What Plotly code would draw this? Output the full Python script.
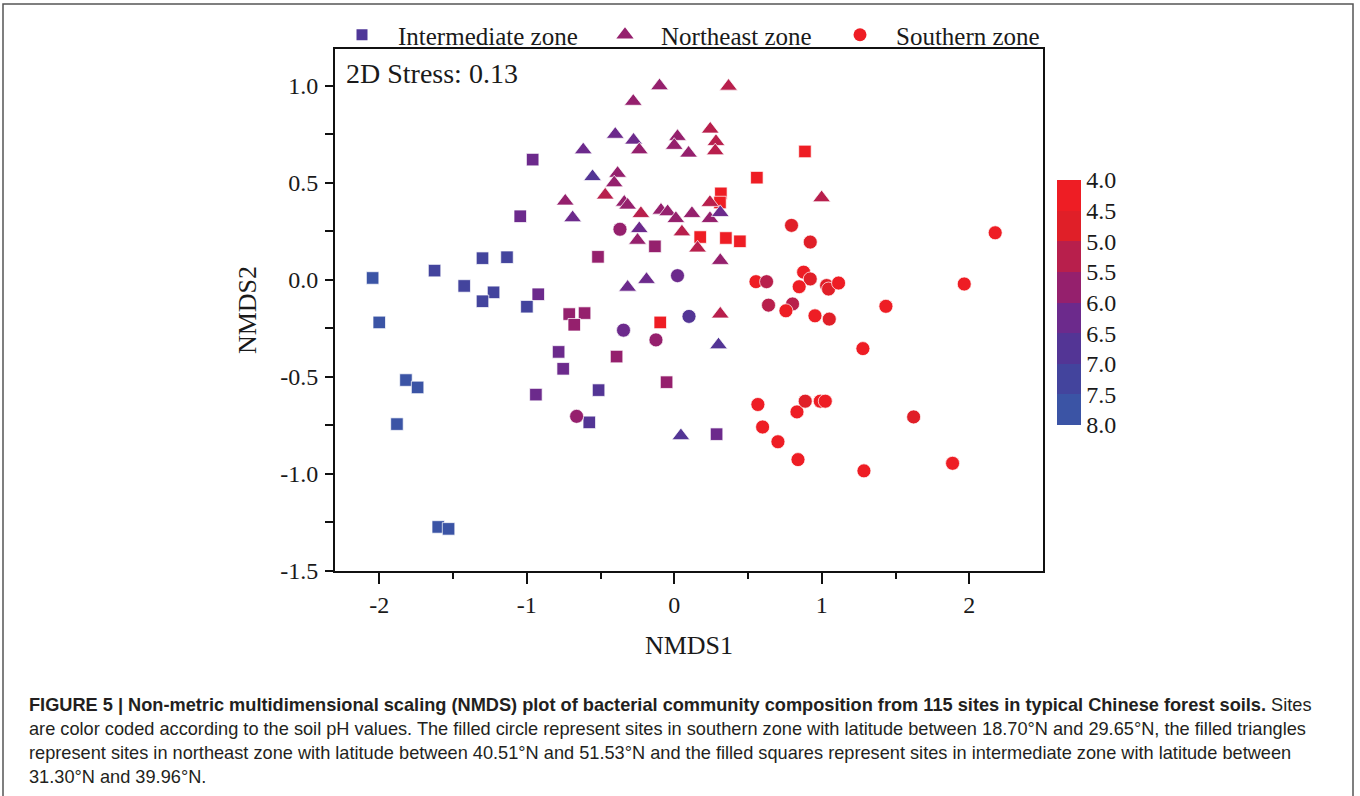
import plotly.graph_objects as go

# ---------------- data ----------------
# Intermediate zone (squares)
inter_x = [-2.045, -0.96, -1.044, -1.625, -1.30, -1.134, -1.424, -1.225, -1.30, -0.922,
           -0.999, -0.517, -0.131, -2.00, -1.819, -1.74, -1.88, -1.60, -1.53, -0.712,
           -0.608, -0.678, -0.095, -0.784, -0.753, -0.391, -0.052, -0.938, -0.513, -0.576,
           0.886, 0.56, 0.316, 0.31, 0.176, 0.35, 0.445, 0.287]
inter_y = [0.01, 0.62, 0.328, 0.048, 0.112, 0.117, -0.031, -0.064, -0.11, -0.074,
           -0.138, 0.119, 0.173, -0.219, -0.516, -0.554, -0.743, -1.273, -1.283, -0.176,
           -0.171, -0.231, -0.219, -0.371, -0.458, -0.395, -0.527, -0.591, -0.568, -0.734,
           0.662, 0.527, 0.446, 0.399, 0.221, 0.216, 0.199, -0.795]
inter_ph = [7.7, 6.2, 6.2, 7.2, 7.2, 7.2, 7.2, 7.2, 7.2, 6.2,
            7.2, 5.7, 5.7, 7.7, 7.7, 7.7, 7.7, 7.8, 7.8, 5.7,
            5.7, 5.7, 4.2, 6.2, 6.2, 5.7, 5.7, 6.2, 6.8, 6.8,
            4.2, 4.2, 4.2, 4.2, 4.2, 4.2, 4.2, 6.2]

# Northeast zone (triangles)
ne_x = [-0.10, 0.368, -0.278, -0.40, -0.276, -0.237, -0.617, 0.022, 0.0, 0.097,
        0.244, 0.283, 0.278, -0.554, -0.384, -0.407, -0.468, -0.739, -0.339, -0.316,
        -0.689, -0.226, -0.09, -0.045, 0.011, 0.12, 0.052, -0.237, -0.249, -0.316,
        -0.188, 0.999, 0.242, 0.242, 0.312, 0.158, 0.312, 0.312, 0.30, 0.045]
ne_y = [1.0, 0.998, 0.92, 0.75, 0.72, 0.67, 0.67, 0.739, 0.693, 0.653,
        0.777, 0.713, 0.665, 0.532, 0.549, 0.50, 0.437, 0.406, 0.40, 0.385,
        0.32, 0.342, 0.359, 0.351, 0.316, 0.342, 0.247, 0.264, 0.204, -0.038,
        0.002, 0.423, 0.399, 0.316, 0.347, 0.164, 0.10, -0.176, -0.335, -0.803]
ne_ph = [5.7, 5.2, 5.7, 6.2, 6.2, 5.7, 6.2, 5.7, 5.7, 5.7,
         5.2, 5.2, 5.2, 6.8, 5.7, 5.7, 5.2, 5.7, 5.7, 5.7,
         6.2, 5.2, 5.7, 5.7, 5.7, 5.7, 5.2, 6.2, 5.7, 6.2,
         6.2, 5.2, 5.2, 5.7, 6.2, 5.2, 5.7, 5.2, 6.8, 6.8]

# Southern zone (circles)
s_x = [-0.368, 0.022, -0.344, -0.124, 0.10, -0.662, 0.795, 0.922, 2.176, 0.877,
       0.922, 0.554, 0.626, 0.847, 1.033, 1.046, 1.114, 1.966, 0.639, 0.802,
       0.757, 0.954, 1.051, 1.435, 1.279, 0.567, 0.832, 0.888, 0.99, 1.024,
       1.623, 0.599, 0.703, 0.839, 1.286, 1.887]
s_y = [0.261, 0.022, -0.259, -0.309, -0.188, -0.703, 0.281, 0.195, 0.243, 0.04,
       0.005, -0.009, -0.009, -0.035, -0.029, -0.047, -0.016, -0.021, -0.13, -0.124,
       -0.159, -0.185, -0.202, -0.136, -0.354, -0.642, -0.68, -0.625, -0.625, -0.625,
       -0.706, -0.758, -0.834, -0.926, -0.984, -0.945]
s_ph = [5.7, 6.2, 6.2, 5.7, 6.8, 5.7, 4.7, 4.7, 4.2, 4.2,
        4.7, 4.2, 5.2, 4.2, 4.7, 4.7, 4.2, 4.2, 5.2, 5.2,
        4.2, 4.2, 4.7, 4.2, 4.2, 4.2, 4.2, 4.7, 4.2, 4.2,
        4.7, 4.2, 4.2, 4.2, 4.2, 4.2]

# colour bins (pH 4.0-4.5, 4.5-5.0, ..., 7.5-8.0)
bin_colors = ["#ee1d24", "#e01f28", "#b81f4c", "#95206d",
              "#6c2a8c", "#533595", "#43449d", "#3b54a5"]
cbar_ticks = [4.0, 4.5, 5.0, 5.5, 6.0, 6.5, 7.0, 7.5, 8.0]

zones = ["Intermediate zone", "Northeast zone", "Southern zone"]
legend_colors = ["#4f3798", "#95206d", "#ee1d24"]

# ---------------- figure ----------------
scale = []
nb = len(bin_colors)
for k in range(nb):
    c = bin_colors[nb - 1 - k]
    scale.append([k / nb, c])
    scale.append([(k + 1) / nb, c])

L, R, T, B = 335, 317, 49, 225
W, H = 1360, 796
PW, PH = W - L - R, H - T - B


def px(xp):
    return (xp - L) / PW


def py(yp):
    return (H - B - yp) / PH


SERIF = "Liberation Serif"
INK = "#1a1a1a"
fig = go.Figure()

marker_line = dict(width=0.8, color="rgba(255,255,255,0.9)")
fig.add_trace(go.Scatter(x=inter_x, y=inter_y, mode="markers", showlegend=False,
                         marker=dict(symbol="square", size=12.5, color=[-v for v in inter_ph],
                                     coloraxis="coloraxis", line=marker_line)))
fig.add_trace(go.Scatter(x=ne_x, y=ne_y, mode="markers", showlegend=False,
                         marker=dict(symbol="triangle-up", size=15.5, color=[-v for v in ne_ph],
                                     coloraxis="coloraxis", line=marker_line)))
fig.add_trace(go.Scatter(x=s_x, y=s_y, mode="markers", showlegend=False,
                         marker=dict(symbol="circle", size=14, color=[-v for v in s_ph],
                                     coloraxis="coloraxis", line=marker_line)))

# legend-only entries
syms = ["square", "triangle-up", "circle"]
sizes = [11, 15, 13]
legs = ["legend", "legend2", "legend3"]
for name, sym, sz, col, lg in zip(zones, syms, sizes, legend_colors, legs):
    fig.add_trace(go.Scatter(x=[None], y=[None], mode="markers", name=name, legend=lg,
                             marker=dict(symbol=sym, size=sz, color=col)))

ITEMW = 62
leg_common = dict(orientation="h", yanchor="middle", y=py(35), xanchor="left",
                  font=dict(family=SERIF, size=25, color=INK),
                  bgcolor="rgba(0,0,0,0)", borderwidth=0, itemwidth=ITEMW)
text_starts = [398, 661, 896]
off = ITEMW + 10
fig.update_layout(
    legend=dict(leg_common, x=px(text_starts[0] - off)),
    legend2=dict(leg_common, x=px(text_starts[1] - off)),
    legend3=dict(leg_common, x=px(text_starts[2] - off)),
)

fig.update_layout(
    width=W, height=H,
    margin=dict(l=L, r=R, t=T, b=B, pad=0),
    paper_bgcolor="white", plot_bgcolor="white",
    font=dict(family=SERIF, color=INK),
    coloraxis=dict(
        colorscale=scale, cmin=-8, cmax=-4,
        colorbar=dict(
            x=px(1057), xanchor="left", xpad=0,
            y=py(302.5), yanchor="middle", ypad=0,
            len=245, lenmode="pixels", thickness=24,
            outlinewidth=0, ticks="",
            tickvals=[-v for v in cbar_ticks],
            ticktext=[f"{v:.1f}" for v in cbar_ticks],
            tickfont=dict(family=SERIF, size=24, color=INK),
        ),
    ),
    xaxis=dict(
        range=[-2.3, 2.5], showgrid=False, zeroline=False,
        showline=True, linewidth=2, linecolor="#111", mirror=True,
        ticks="outside", ticklen=11, tickwidth=2, tickcolor="#111",
        tickmode="array", tickvals=[-2, -1, 0, 1, 2], ticktext=["-2", "-1", "0", "1", "2"],
        tickfont=dict(family=SERIF, size=24, color=INK),
        minor=dict(tickmode="array", tickvals=[-1.5, -0.5, 0.5, 1.5], ticks="outside",
                   ticklen=6, tickwidth=2, tickcolor="#111", showgrid=False),
        title=dict(text="NMDS1", font=dict(family=SERIF, size=26, color=INK), standoff=19),
    ),
    yaxis=dict(
        range=[-1.5, 1.19], showgrid=False, zeroline=False,
        showline=True, linewidth=2, linecolor="#111", mirror=True,
        ticks="outside", ticklen=8, tickwidth=2, tickcolor="#111",
        tickmode="array", tickvals=[-1.5, -1.0, -0.5, 0.0, 0.5, 1.0],
        ticktext=["-1.5", "-1.0", "-0.5", "0.0", "0.5", "1.0"],
        tickfont=dict(family=SERIF, size=24, color=INK),
        ticklabelstandoff=2,
        minor=dict(tickmode="array", tickvals=[-1.25, -0.75, -0.25, 0.25, 0.75], ticks="outside",
                   ticklen=8, tickwidth=2, tickcolor="#111", showgrid=False),
        title=dict(text="NMDS2", font=dict(family=SERIF, size=26, color=INK), standoff=16),
    ),
)

fig.add_annotation(xref="paper", yref="paper", x=px(344), y=py(73), xanchor="left",
                   yanchor="middle", showarrow=False, text="2D Stress: 0.13",
                   font=dict(family=SERIF, size=28, color=INK))

# caption
SANS = "Liberation Sans"
cap_lines = [
    "<b>FIGURE 5 | Non-metric multidimensional scaling (NMDS) plot of bacterial community composition from 115 sites in typical Chinese forest soils.</b> Sites",
    "are color coded according to the soil pH values. The filled circle represent sites in southern zone with latitude between 18.70°N and 29.65°N, the filled triangles",
    "represent sites in northeast zone with latitude between 40.51°N and 51.53°N and the filled squares represent sites in intermediate zone with latitude between",
    "31.30°N and 39.96°N.",
]
cap_y = [705, 729, 753, 777]
for t, yy in zip(cap_lines, cap_y):
    fig.add_annotation(xref="paper", yref="paper", x=px(27), y=py(yy), xanchor="left",
                       yanchor="middle", showarrow=False, text=t, align="left",
                       font=dict(family=SANS, size=18.2, color="#231f20"))

fig.add_shape(type="rect", xref="paper", yref="paper", x0=px(3), x1=px(1353),
              y0=py(805), y1=py(4), line=dict(color="#555", width=1.5), fillcolor="rgba(0,0,0,0)")

fig.write_html("out.html", config={"displayModeBar": False},
               post_script="document.body.style.margin='0';")
